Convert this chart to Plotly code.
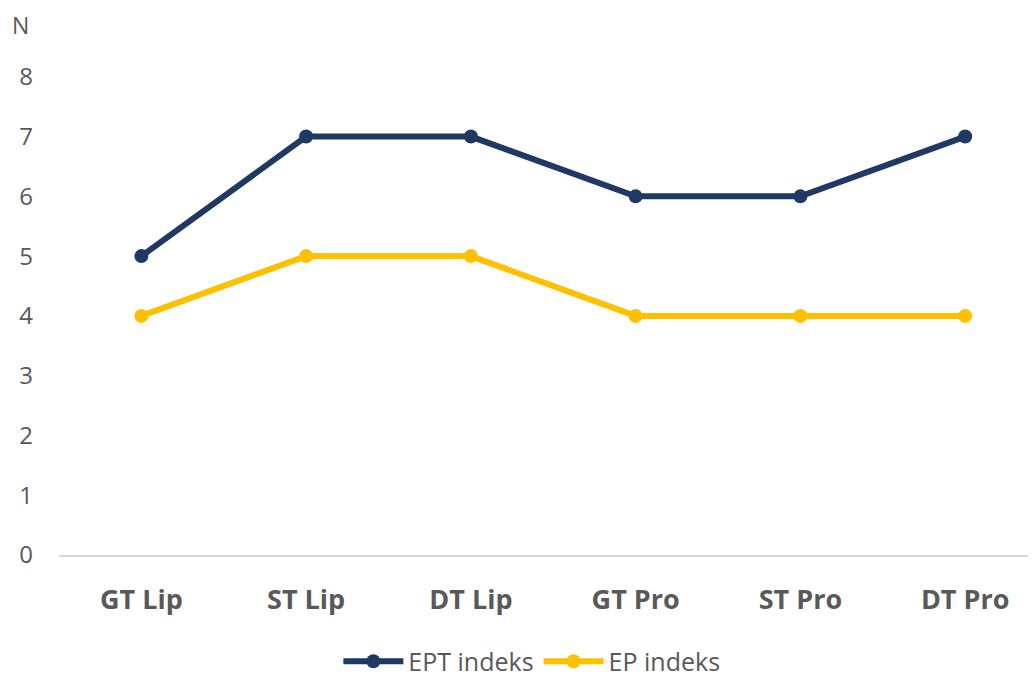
import plotly.graph_objects as go

categories = ["GT Lip", "ST Lip", "DT Lip", "GT Pro", "ST Pro", "DT Pro"]
ept_values = [5, 7, 7, 6, 6, 7]
ep_values = [4, 5, 5, 4, 4, 4]
y_ticks = [0, 1, 2, 3, 4, 5, 6, 7, 8]

FONT = "Open Sans, DejaVu Sans, sans-serif"
GRAY = "#595959"

fig = go.Figure()
fig.add_trace(go.Scatter(x=categories, y=ept_values, name="EPT indeks", mode="lines+markers",
                         line=dict(color="#1F3864", width=6), marker=dict(size=14, color="#1F3864")))
fig.add_trace(go.Scatter(x=categories, y=ep_values, name="EP indeks", mode="lines+markers",
                         line=dict(color="#FFC000", width=6), marker=dict(size=14, color="#FFC000")))

fig.update_layout(
    width=1036, height=676,
    margin=dict(l=51, r=8, t=9, b=129, autoexpand=False),
    plot_bgcolor="white", paper_bgcolor="white",
    font=dict(family=FONT, color=GRAY, size=24),
    xaxis=dict(type="category", range=[-0.5, 5.43], showgrid=False, showline=True, automargin=False,
               linecolor="#D9D9D9", linewidth=2, ticks="", ticklabelstandoff=20,
               tickfont=dict(size=27, color=GRAY, family=FONT, weight="bold")),
    yaxis=dict(range=[0, 9], tickvals=y_ticks, showgrid=False, zeroline=False, showline=False,
               automargin=False, ticks="", ticklabelstandoff=25, tickfont=dict(size=24, color=GRAY)),
    legend=dict(orientation="h", x=0.484, xanchor="center", y=-0.198, yanchor="middle",
                font=dict(size=25, color=GRAY), itemwidth=60, tracegroupgap=0),
    showlegend=True,
)
fig.add_annotation(text="N", xref="paper", yref="paper", x=-0.039, xanchor="center",
                   y=0.985, yanchor="middle", showarrow=False, font=dict(size=23, color=GRAY))

fig.write_html("out.html")
